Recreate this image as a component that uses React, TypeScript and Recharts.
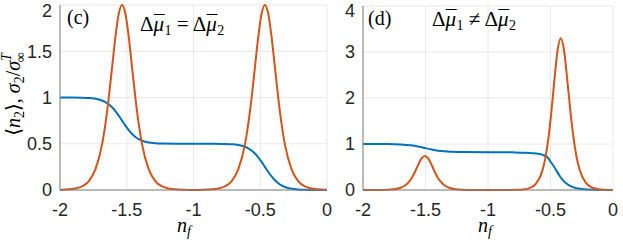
import React from 'react';
import { LineChart, Line, XAxis, YAxis, CartesianGrid } from 'recharts';

// values, [n_f, value]
const occupationC: Array<[number, number]> = [
  [-2, 1], [-1.935, 0.9995], [-1.835, 0.9975], [-1.785, 0.994], [-1.735, 0.986], [-1.685, 0.967],
  [-1.66, 0.951], [-1.635, 0.927], [-1.61, 0.895], [-1.585, 0.854], [-1.56, 0.804], [-1.535, 0.75],
  [-1.51, 0.696], [-1.485, 0.646], [-1.46, 0.605], [-1.435, 0.573], [-1.41, 0.549], [-1.385, 0.533],
  [-1.335, 0.514], [-1.285, 0.506], [-1.235, 0.5025], [-1.135, 0.5005], [-1, 0.5], [-0.865, 0.4995],
  [-0.765, 0.4975], [-0.715, 0.494], [-0.665, 0.486], [-0.615, 0.467], [-0.59, 0.451], [-0.565, 0.427],
  [-0.54, 0.395], [-0.515, 0.354], [-0.49, 0.304], [-0.465, 0.25], [-0.44, 0.196], [-0.415, 0.146],
  [-0.39, 0.105], [-0.365, 0.073], [-0.34, 0.049], [-0.315, 0.033], [-0.265, 0.014], [-0.215, 0.006],
  [-0.165, 0.0025], [-0.065, 0.0005], [0, 0],
];

const varianceC: Array<[number, number]> = [
  [-2, 0.0005], [-1.935, 0.007], [-1.885, 0.016], [-1.835, 0.039], [-1.785, 0.094], [-1.735, 0.222],
  [-1.685, 0.49], [-1.66, 0.712], [-1.635, 0.994], [-1.61, 1.324], [-1.585, 1.654], [-1.56, 1.905],
  [-1.535, 2], [-1.51, 1.905], [-1.485, 1.654], [-1.46, 1.324], [-1.435, 0.994], [-1.41, 0.712],
  [-1.385, 0.49], [-1.335, 0.222], [-1.285, 0.094], [-1.235, 0.039], [-1.185, 0.016], [-1.135, 0.007],
  [-1.035, 0.001], [-1, 0.0005], [-0.965, 0.001], [-0.865, 0.007], [-0.815, 0.016], [-0.765, 0.039],
  [-0.715, 0.094], [-0.665, 0.222], [-0.615, 0.49], [-0.59, 0.712], [-0.565, 0.994], [-0.54, 1.324],
  [-0.515, 1.654], [-0.49, 1.905], [-0.465, 2], [-0.44, 1.905], [-0.415, 1.654], [-0.39, 1.324],
  [-0.365, 0.994], [-0.34, 0.712], [-0.315, 0.49], [-0.265, 0.222], [-0.215, 0.094], [-0.165, 0.039],
  [-0.115, 0.016], [-0.065, 0.007], [0, 0.002],
];

const occupationD: Array<[number, number]> = [
  [-2, 1], [-1.9, 0.999], [-1.8, 0.998], [-1.75, 0.995], [-1.7, 0.99], [-1.65, 0.98], [-1.6, 0.965],
  [-1.55, 0.94], [-1.5, 0.91], [-1.45, 0.88], [-1.4, 0.855], [-1.35, 0.84], [-1.3, 0.832], [-1.2, 0.827],
  [-1, 0.823], [-0.8, 0.818], [-0.7, 0.81], [-0.65, 0.8], [-0.6, 0.79], [-0.575, 0.775], [-0.55, 0.75],
  [-0.525, 0.71], [-0.5, 0.62], [-0.475, 0.52], [-0.45, 0.41], [-0.425, 0.3], [-0.4, 0.21],
  [-0.375, 0.145], [-0.35, 0.1], [-0.325, 0.068], [-0.3, 0.045], [-0.25, 0.02], [-0.2, 0.009],
  [-0.15, 0.004], [-0.1, 0.002], [0, 0],
];

const varianceD: Array<[number, number]> = [
  [-2, 0], [-1.905, 0.0007], [-1.805, 0.005], [-1.755, 0.015], [-1.705, 0.043], [-1.655, 0.116],
  [-1.63, 0.185], [-1.605, 0.285], [-1.58, 0.419], [-1.555, 0.568], [-1.53, 0.691], [-1.505, 0.74],
  [-1.48, 0.691], [-1.455, 0.568], [-1.43, 0.419], [-1.405, 0.285], [-1.38, 0.185], [-1.355, 0.116],
  [-1.305, 0.043], [-1.255, 0.015], [-1.205, 0.005], [-1.105, 0.0007], [-1, 0.0002], [-0.85, 0.001],
  [-0.768, 0.004], [-0.718, 0.013], [-0.668, 0.042], [-0.618, 0.13], [-0.568, 0.394], [-0.543, 0.666],
  [-0.518, 1.1], [-0.493, 1.7], [-0.468, 2.41], [-0.443, 3.04], [-0.418, 3.3], [-0.393, 3.06],
  [-0.368, 2.46], [-0.343, 1.77], [-0.318, 1.18], [-0.293, 0.74], [-0.268, 0.45], [-0.218, 0.16],
  [-0.168, 0.055], [-0.118, 0.018], [-0.068, 0.006], [0, 0.002],
];

const nfTicks = [-2, -1.5, -1, -0.5, 0];
const yTicksC = [0, 0.5, 1, 1.5, 2];
const yTicksD = [0, 1, 2, 3, 4];

const BLUE = '#0072BD';
const ORANGE = '#D95319';
const tickStyle = { fill: '#262626', fontSize: 18, fontFamily: 'Liberation Sans, Arial, sans-serif' };
const serif = { fontFamily: "'Liberation Serif', 'DejaVu Serif', serif" };

const toRows = (pts: Array<[number, number]>) => pts.map(([nf, v]) => ({ nf, v }));

type PanelProps = {
  occ: Array<[number, number]>;
  vari: Array<[number, number]>;
  yMax: number;
  yTicks: number[];
  width: number;
  top: number;
  right: number;
};

const Panel = ({ occ, vari, yMax, yTicks, width, top, right }: PanelProps) => (
  <LineChart width={width} height={250} margin={{ top, right, bottom: 0, left: 0 }}>
    <CartesianGrid stroke="#e8e8e8" />
    <XAxis
      type="number"
      dataKey="nf"
      domain={[-2, 0]}
      ticks={nfTicks}
      height={60}
      tickSize={0}
      tickMargin={13}
      axisLine={{ stroke: '#808080' }}
      tick={tickStyle}
      allowDuplicatedCategory={false}
    />
    <YAxis
      type="number"
      domain={[0, yMax]}
      ticks={yTicks}
      width={60}
      tickSize={0}
      tickMargin={8}
      axisLine={{ stroke: '#808080' }}
      tick={tickStyle}
    />
    <Line data={toRows(occ)} dataKey="v" type="monotone" stroke={BLUE} strokeWidth={2} dot={false} activeDot={false} isAnimationActive={false} />
    <Line data={toRows(vari)} dataKey="v" type="monotone" stroke={ORANGE} strokeWidth={2} dot={false} activeDot={false} isAnimationActive={false} />
  </LineChart>
);

// Δ μ̄_i, with the bar drawn as a macron over the italic mu
const MuBar = ({ idx }: { idx: string }) => (
  <>
    <tspan fontStyle="italic">μ</tspan>
    <tspan dx={-10} dy={-1}>¯</tspan>
    <tspan fontSize={14} dy={5}>{idx}</tspan>
    <tspan dy={-4}> </tspan>
  </>
);

export default function App() {
  return (
    <div style={{ position: 'absolute', left: 0, top: 0, width: 623, height: 250, background: '#fff' }}>
      <div style={{ position: 'absolute', left: 0, top: 0 }}>
        <Panel occ={occupationC} vari={varianceC} yMax={2} yTicks={yTicksC} width={340} top={5} right={13} />
      </div>
      <div style={{ position: 'absolute', left: 303, top: 0 }}>
        <Panel occ={occupationD} vari={varianceD} yMax={4} yTicks={yTicksD} width={320} top={6} right={10} />
      </div>
      <svg width={623} height={250} style={{ position: 'absolute', left: 0, top: 0, pointerEvents: 'none' }}>
        <text transform="translate(20,94) rotate(-90)" textAnchor="middle" fontSize={20} style={serif}>
          ⟨<tspan fontStyle="italic">n</tspan>
          <tspan fontSize={14} dy={4}>2</tspan>
          <tspan dy={-4}>⟩, </tspan>
          <tspan fontStyle="italic">σ</tspan>
          <tspan fontSize={14} dy={4}>2</tspan>
          <tspan dy={-4}>/</tspan>
          <tspan fontStyle="italic">σ</tspan>
          <tspan fontSize={14} fontStyle="italic" dy={-9}>T</tspan>
          <tspan fontSize={14} dx={-9} dy={14}>∞</tspan>
        </text>

        <text x={67} y={24} fontSize={20} style={serif}>(c)</text>
        <text x={140} y={31} fontSize={21} style={serif}>
          Δ<MuBar idx="1" />= Δ<MuBar idx="2" />
        </text>

        <text x={368} y={25} fontSize={20} style={serif}>(d)</text>
        <text x={432} y={26} fontSize={21} style={serif}>
          Δ<MuBar idx="1" />≠ Δ<MuBar idx="2" />
        </text>

        <text x={177} y={232} fontSize={20} fontStyle="italic" style={serif}>
          n<tspan fontSize={14} dy={4}>f</tspan>
        </text>
        <text x={478} y={232} fontSize={20} fontStyle="italic" style={serif}>
          n<tspan fontSize={14} dy={4}>f</tspan>
        </text>
      </svg>
    </div>
  );
}
